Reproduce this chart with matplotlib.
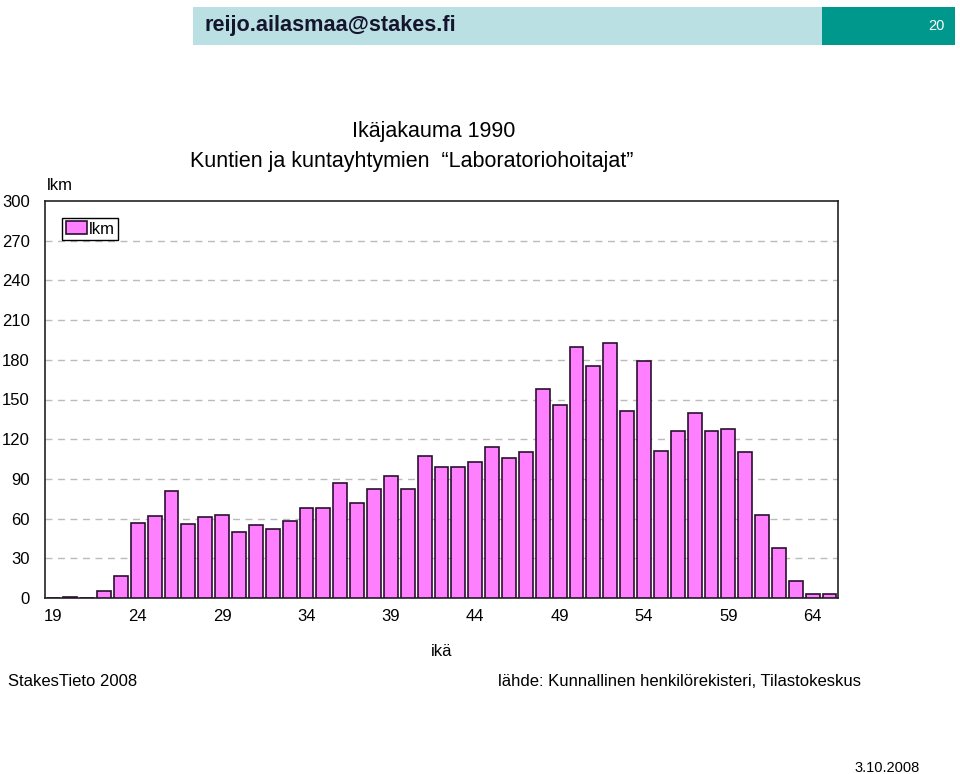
import matplotlib
matplotlib.use("Agg")
import matplotlib.pyplot as plt
from matplotlib.patches import Rectangle
import numpy as np

plt.rcParams["font.family"] = ["Liberation Sans", "DejaVu Sans"]

# age distribution 1990, counts per age
ages = list(range(19, 66))
counts = [0, 1, 0, 5, 17, 57, 62, 81, 56, 61, 63, 50, 55, 52, 58, 68, 68, 87,
          72, 82, 92, 82, 107, 99, 99, 103, 114, 106, 110, 158, 146, 190, 175,
          193, 141, 179, 111, 126, 140, 126, 128, 110, 63, 38, 13, 3, 3]
yticks = list(range(0, 301, 30))
xtick_ages = list(range(19, 65, 5))

fig = plt.figure(figsize=(9.6, 7.74), dpi=100)

# header strip
fig.patches.append(Rectangle((193 / 960, 1 - 45 / 774), 629 / 960, 38 / 774,
                             transform=fig.transFigure, facecolor="#bbe0e3", edgecolor="none"))
fig.patches.append(Rectangle((822 / 960, 1 - 45 / 774), 133 / 960, 38 / 774,
                             transform=fig.transFigure, facecolor="#00978c", edgecolor="none"))
fig.text(205 / 960, 1 - 26 / 774, "reijo.ailasmaa@stakes.fi", fontsize=15.6, fontweight="bold",
         color="#15152e", va="center", ha="left")
fig.text(936 / 960, 1 - 26 / 774, "20", fontsize=10.5, color="white", va="center", ha="center")

ax = fig.add_axes([45 / 960, 1 - 598 / 774, 793 / 960, 397 / 774])
x = np.arange(len(ages))
ax.bar(x, counts, width=0.82, color="#ff80ff", edgecolor="#2a1030", linewidth=1.2,
       label="lkm", zorder=3)
ax.set_xlim(-0.5, len(ages) - 0.5)
ax.set_ylim(0, 300)
ax.set_yticks(yticks)
ax.set_yticklabels([str(v) for v in yticks], fontsize=12)
ax.set_xticks([ages.index(a) for a in xtick_ages])
ax.set_xticklabels([str(a) for a in xtick_ages], fontsize=12)
ax.tick_params(axis="y", length=0, pad=11)
ax.tick_params(axis="x", length=0, pad=8)
for v in yticks[1:-1]:
    ax.axhline(v, color="#bbbbbb", linestyle=(0, (5, 4)), linewidth=1, zorder=1)
for s in ax.spines.values():
    s.set_color("#222222")
    s.set_linewidth(1.2)

leg = ax.legend(loc="upper left", bbox_to_anchor=(0.022, 0.957), fontsize=12, frameon=True,
                fancybox=False, edgecolor="black", framealpha=1, borderpad=0.2,
                handlelength=1.3, handleheight=0.8, handletextpad=0.1, borderaxespad=0)
leg.get_frame().set_linewidth(1.0)

fig.text(47 / 960, 1 - 186 / 774, "lkm", fontsize=12, va="center", ha="left")
fig.text(442 / 960, 1 - 651 / 774, "ikä", fontsize=12, va="center", ha="center")

fig.text(434 / 960, 1 - 131 / 774, "Ikäjakauma 1990", fontsize=15.5, va="center", ha="center")
fig.text(412 / 960, 1 - 162 / 774, "Kuntien ja kuntayhtymien  \u201cLaboratoriohoitajat\u201d",
         fontsize=15.5, va="center", ha="center")

fig.text(8 / 960, 1 - 681 / 774, "StakesTieto 2008", fontsize=12, va="center", ha="left")
fig.text(498 / 960, 1 - 681 / 774, "lähde: Kunnallinen henkilörekisteri, Tilastokeskus",
         fontsize=12, va="center", ha="left")
fig.text(887 / 960, 1 - 768 / 774, "3.10.2008", fontsize=10.5, va="center", ha="center")

fig.savefig("out.png", dpi=100)
